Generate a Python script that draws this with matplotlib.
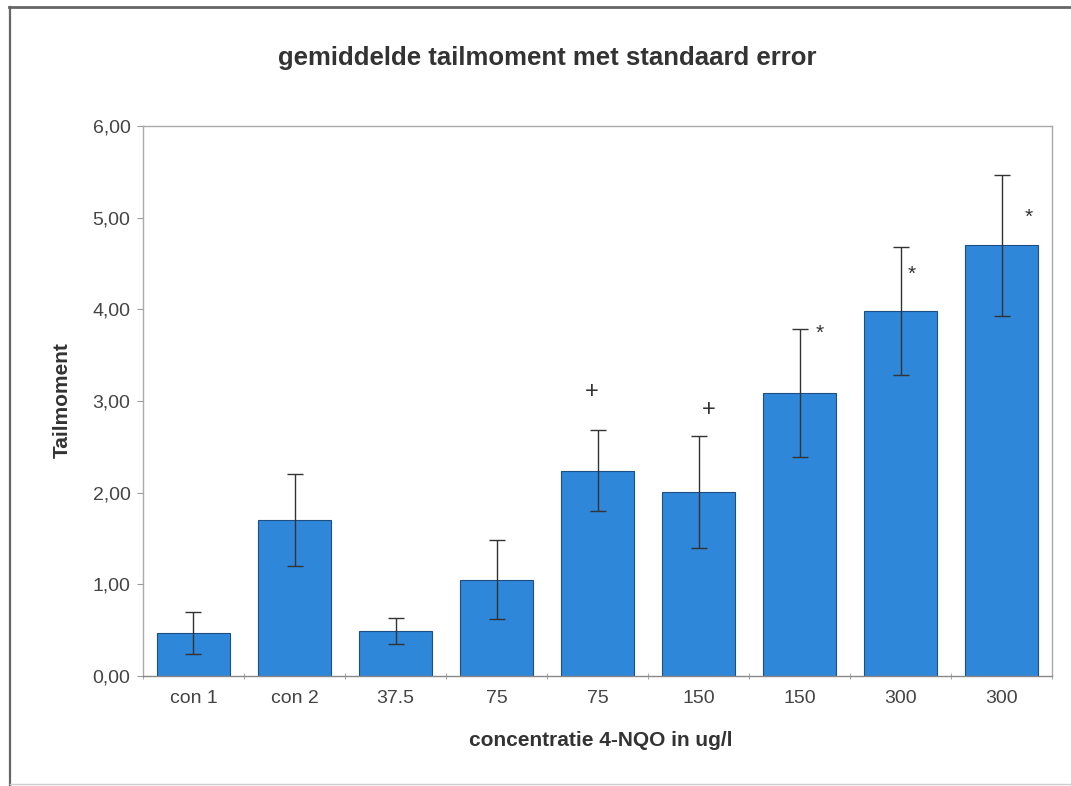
import numpy as np
import matplotlib
matplotlib.use('Agg')
import matplotlib.pyplot as plt
from matplotlib.ticker import FuncFormatter
from matplotlib.lines import Line2D

plt.rcParams['font.family'] = ['Liberation Sans', 'DejaVu Sans']

# mean tail moment per group, with standard error
groups = ['con 1', 'con 2', '37.5', '75', '75', '150', '150', '300', '300']
means = [0.47, 1.70, 0.49, 1.05, 2.24, 2.01, 3.09, 3.98, 4.70]
sems = [0.23, 0.50, 0.14, 0.43, 0.44, 0.61, 0.70, 0.70, 0.77]

# significance marks: (group index, symbol, height)
marks_idx = [4, 5, 6, 7, 8]
marks_sym = ['+', '+', '*', '*', '*']
marks_y = [3.10, 2.90, 3.74, 4.38, 5.00]
marks_dx = [-0.06, 0.10, 0.20, 0.11, 0.27]

fig = plt.figure(figsize=(10.71, 7.86), dpi=100)
ax = fig.add_axes([0.1335, 0.140, 0.849, 0.6997])

x = np.arange(len(groups))
ax.bar(x, means, width=0.72, color='#2F87DA', edgecolor='#1d4f85', linewidth=0.8, zorder=2)
ax.errorbar(x, means, yerr=sems, fmt='none', ecolor='#333333', elinewidth=1.0,
            capsize=6, capthick=1.0, zorder=3)

for i, s, y, dx in zip(marks_idx, marks_sym, marks_y, marks_dx):
    ax.text(i + dx, y, s, ha='center', va='center', fontsize=17 if s == '+' else 15,
            color='#333333', zorder=4)

ax.set_xlim(-0.5, len(groups) - 0.5)
ax.set_ylim(0, 6)
ax.set_yticks(np.arange(0, 7, 1))
ax.yaxis.set_major_formatter(FuncFormatter(lambda v, p: f'{v:.2f}'.replace('.', ',')))
ax.set_xticks(x)
ax.set_xticklabels(groups)
ax.set_xticks(np.arange(-0.5, len(groups), 1), minor=True)
ax.tick_params(axis='x', which='major', length=0, pad=10, labelsize=14, labelcolor='#444444')
ax.tick_params(axis='x', which='minor', length=4, direction='inout', color='#999999')
ax.tick_params(axis='y', length=4, color='#999999', pad=5, labelsize=14, labelcolor='#444444')

for sp in ax.spines.values():
    sp.set_color('#aaaaaa')
    sp.set_linewidth(1.0)
ax.spines['bottom'].set_color('#888888')

fig.text(62 / 1071, 1 - 400 / 786, 'Tailmoment', rotation=90, ha='center', va='center',
         fontsize=15, fontweight='bold', color='#333333')
fig.text(601 / 1071, 1 - 740 / 786, 'concentratie 4-NQO in ug/l', ha='center', va='center',
         fontsize=15, fontweight='bold', color='#333333')
fig.text(547 / 1071, 1 - 58 / 786, 'gemiddelde tailmoment met standaard error',
         ha='center', va='center', fontsize=18.5, fontweight='bold', color='#333333')

# chart frame
fig.add_artist(Line2D([0.008, 1.0], [0.991, 0.991], color='#666666', linewidth=2.0))
fig.add_artist(Line2D([0.009, 0.009], [0.0, 0.991], color='#666666', linewidth=1.6))
fig.add_artist(Line2D([0.009, 1.0], [0.003, 0.003], color='#cccccc', linewidth=1.0))

fig.savefig('out.png', dpi=100)
